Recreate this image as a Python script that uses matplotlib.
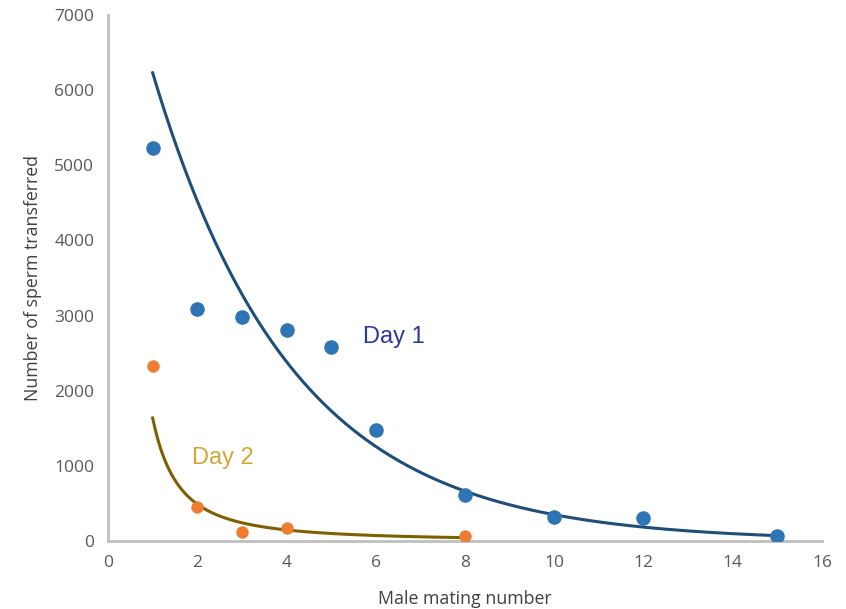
import numpy as np
import matplotlib
matplotlib.use("Agg")
import matplotlib.pyplot as plt

# Day 1 observations
day1_mating = [1, 2, 3, 4, 5, 6, 8, 10, 12, 15]
day1_sperm = [5230, 3090, 2980, 2810, 2580, 1480, 610, 320, 310, 60]

# Day 2 observations
day2_mating = [1, 2, 3, 4, 8]
day2_sperm = [2330, 450, 120, 175, 65]

# trendlines (Excel style): day 1 exponential, day 2 power
day1_fit_a, day1_fit_b = 8580, -0.32
day2_fit_a, day2_fit_b = 1637, -1.74

x_ticks = [0, 2, 4, 6, 8, 10, 12, 14, 16]
y_ticks = [0, 1000, 2000, 3000, 4000, 5000, 6000, 7000]

fig = plt.figure(figsize=(8.46, 6.09), dpi=100)
ax = fig.add_axes([0.1277, 0.1117, 0.8439, 0.8637])

x1 = np.linspace(min(day1_mating), max(day1_mating), 300)
x2 = np.linspace(min(day2_mating), max(day2_mating), 300)
ax.plot(x1, day1_fit_a * np.exp(day1_fit_b * x1), color="#1f4e79", lw=2.2, zorder=2)
ax.plot(x2, day2_fit_a * x2 ** day2_fit_b, color="#7f6000", lw=2.2, zorder=2)

ax.scatter(day1_mating, day1_sperm, s=110, color="#2e75b6", zorder=3, linewidths=0)
ax.scatter(day2_mating, day2_sperm, s=80, color="#ed7d31", zorder=3, linewidths=0)

ax.text(5.72, 2710, "Day 1", color="#2f3699", fontsize=17, family="Liberation Sans",
        va="center", ha="left")
ax.text(1.88, 1110, "Day 2", color="#d4a636", fontsize=17, family="Liberation Sans",
        va="center", ha="left")

ax.set_xlim(0, 16)
ax.set_ylim(0, 7000)
ax.set_xticks(x_ticks)
ax.set_yticks(y_ticks)
ax.tick_params(length=0, labelsize=12.5, labelcolor="#595959", pad=10)
for lab in ax.get_xticklabels() + ax.get_yticklabels():
    lab.set_family("Open Sans")

for side in ["top", "right"]:
    ax.spines[side].set_visible(False)
for side in ["left", "bottom"]:
    ax.spines[side].set_color("#bfbfbf")
    ax.spines[side].set_linewidth(2)

ax.set_xlabel("Male mating number", fontsize=12.8, color="#404040", family="Open Sans", labelpad=14)
ax.set_ylabel("Number of sperm transferred", fontsize=12.8, color="#404040", family="Open Sans", labelpad=9)

fig.savefig("out.png", dpi=100)
